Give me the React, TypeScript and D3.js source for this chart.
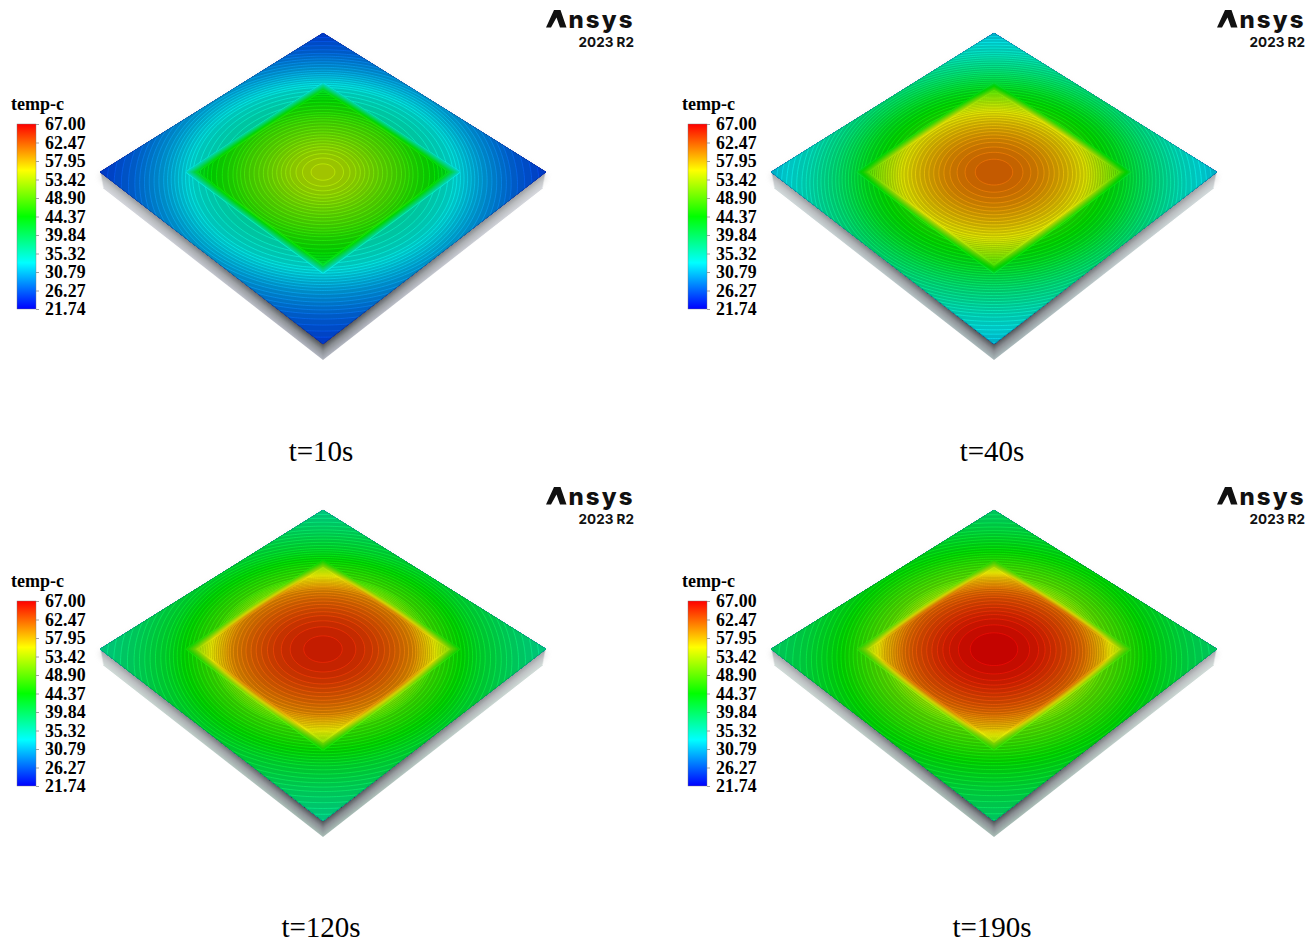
import React, { useMemo } from "react";
import * as d3 from "d3";

const legendTicks = [67.0, 62.47, 57.95, 53.42, 48.9, 44.37, 39.84, 35.32, 30.79, 26.27, 21.74];
const jetStops = [21.74, 33.05, 44.37, 55.69, 67];
const jetColors = ["#0000ff", "#00ffff", "#00ff00", "#ffff00", "#ff0000"];

// temperature read along the plate, from the centre outward (r = plate half-widths)
const innerStations = [0, 0.1, 0.2, 0.3, 0.4, 0.5, 0.58, 0.7, 0.83];
const outerStations = [0.58, 0.7, 0.82, 1, 1.2, 1.42];

const inner10 = [53.8, 53.3, 52.2, 50.6, 49.0, 47.5, 46.0, 44.5, 42.0];
const outer10 = [36.0, 35.0, 33.6, 30.0, 27.0, 24.8];
const inner40 = [62.0, 61.7, 61.0, 60.0, 58.6, 57.0, 55.5, 52.0, 47.5];
const outer40 = [46.5, 44.6, 42.6, 38.5, 34.6, 31.5];
const inner120 = [65.6, 65.3, 64.8, 64.0, 62.8, 61.4, 60.0, 56.0, 50.5];
const outer120 = [52.0, 47.5, 45.4, 42.0, 39.3, 37.0];
const inner190 = [67.0, 66.8, 66.3, 65.5, 64.2, 62.8, 61.2, 57.5, 51.5];
const outer190 = [53.0, 49.0, 47.0, 43.8, 41.0, 38.8];

const captions = ["t=10s", "t=40s", "t=120s", "t=190s"];
const inners = [inner10, inner40, inner120, inner190];
const outers = [outer10, outer40, outer120, outer190];
const panelColumns = [0, 1, 0, 1];
const panelRows = [0, 0, 1, 1];
const shadowTints = ["#b0b4be", "#a9b8ba", "#a6bab4", "#a6bab4"];

const LOW = 21.74;
const HIGH = 67;
const LEVELS = 100;
const STEP = (HIGH - LOW) / LEVELS;
const SOURCE = 0.593;
const BAND = 0.026;
const K = 33 / 311;
const HALF_X = 223;
const HALF_Y = 153.75;
const GRID = 210;
const EXT = 1.04;
const DIM = 0.77;

const jet = d3.scaleLinear<string>().domain(jetStops).range(jetColors).clamp(true);
const dim = (t: number) => {
  const c = d3.rgb(jet(t));
  return d3.rgb(c.r * DIM, c.g * DIM, c.b * DIM).formatRgb();
};
const lineColor = (t: number) => d3.interpolateRgb(jet(t), "#ffffff")(0.03);

function project(a: number, b: number, cx: number, cy: number): [number, number] {
  const p = (a - b) / 2;
  const q = (a + b) / 2;
  const w = 1 - K * q;
  return [cx + (HALF_X * p) / w, cy + (HALF_Y * q) / w];
}

function Plate({ idx, cx, cy }: { idx: number; cx: number; cy: number }) {
  const bands = useMemo(() => {
    const inScale = d3.scaleLinear().domain(innerStations).range(inners[idx]).clamp(true);
    const outScale = d3.scaleLinear().domain(outerStations).range(outers[idx]).clamp(true);
    const gridToPlate = d3.scaleLinear().domain([0, GRID]).range([-EXT, EXT]);
    const values = new Array(GRID * GRID);
    for (let j = 0; j < GRID; j++) {
      for (let i = 0; i < GRID; i++) {
        const a = gridToPlate(i + 0.5);
        const b = gridToPlate(j + 0.5);
        const r = Math.hypot(a, b);
        const m = Math.max(Math.abs(a), Math.abs(b));
        const w = Math.min(1, Math.max(0, (m - SOURCE + BAND) / (2 * BAND)));
        values[j * GRID + i] = inScale(r) * (1 - w) + outScale(r) * w;
      }
    }
    const thresholds = d3.range(0, LEVELS).map((k) => LOW + k * STEP);
    const transform = d3.geoTransform({
      point(x: number, y: number) {
        const [sx, sy] = project(gridToPlate(x), gridToPlate(y), cx, cy);
        (this as any).stream.point(sx, sy);
      },
    });
    const path = d3.geoPath(transform);
    return d3
      .contours()
      .size([GRID, GRID])
      .thresholds(thresholds)(values)
      .filter((c) => c.coordinates.length > 0)
      .map((c) => ({ t: c.value, d: path(c as any) || "" }));
  }, [idx, cx, cy]);

  const corners = [
    project(-1, -1, cx, cy),
    project(1, -1, cx, cy),
    project(1, 1, cx, cy),
    project(-1, 1, cx, cy),
  ];
  const source = [
    project(-SOURCE, -SOURCE, cx, cy),
    project(SOURCE, -SOURCE, cx, cy),
    project(SOURCE, SOURCE, cx, cy),
    project(-SOURCE, SOURCE, cx, cy),
  ];
  const pts = corners.map((c) => c.join(",")).join(" ");
  const clipId = `plate-${idx}`;
  const maskId = `lines-${idx}`;
  const fadeId = `fade-${idx}`;
  const shadowDepth = d3.range(16, -1, -1);
  const shade = d3.scaleLinear<string>().domain([16, 8, 0]).range([shadowTints[idx], "#8c9095", "#4c4f53"]);

  return (
    <g>
      <defs>
        <clipPath id={clipId}>
          <polygon points={pts} />
        </clipPath>
        <mask id={maskId} maskUnits="userSpaceOnUse" x={cx - 240} y={cy - 160} width={480} height={360}>
          <rect x={cx - 240} y={cy - 160} width={480} height={360} fill="#fff" />
          <polygon points={source.map((c) => c.join(",")).join(" ")} fill="none" stroke="#555" strokeWidth={6} />
        </mask>
        <linearGradient id={`${fadeId}-g`} gradientUnits="userSpaceOnUse" x1={cx - 223} x2={cx + 223} y1={0} y2={0}>
          <stop offset={0} stopColor="#fff" stopOpacity={0.5} />
          <stop offset={0.45} stopColor="#fff" stopOpacity={0} />
          <stop offset={0.55} stopColor="#fff" stopOpacity={0} />
          <stop offset={1} stopColor="#fff" stopOpacity={0.5} />
        </linearGradient>
      </defs>
      <polygon
        points={corners.map((c) => `${c[0]},${c[1] + 5}`).join(" ")}
        fill="#8a8a8a"
        opacity={0.5}
        filter="url(#soft)"
      />
      <g filter="url(#softer)">
        {shadowDepth.map((d) => (
          <polygon
            key={d}
            points={[
              [corners[3][0] + (d * 3) / 16, corners[3][1] + d],
              [corners[2][0], corners[2][1] + d],
              [corners[1][0] - (d * 3) / 16, corners[1][1] + d],
            ]
              .map((c) => c.join(","))
              .join(" ")}
            fill={shade(d)}
          />
        ))}
        <polygon
          points={[
            [corners[3][0] + 3, corners[3][1] + 16],
            [corners[2][0], corners[2][1] + 16],
            [corners[1][0] - 3, corners[1][1] + 16],
            [corners[1][0], corners[1][1]],
            [corners[3][0], corners[3][1]],
          ]
            .map((c) => c.join(","))
            .join(" ")}
          fill={`url(#${fadeId}-g)`}
        />
      </g>
      <polygon points={pts} fill={dim(LOW)} />
      <g clipPath={`url(#${clipId})`}>
        {bands.map((b) => (
          <path key={`f${b.t}`} d={b.d} fill={dim(b.t + STEP / 2)} />
        ))}
        <g mask={`url(#${maskId})`}>
          {bands.map((b) => (
            <path key={`l${b.t}`} d={b.d} fill="none" stroke={lineColor(b.t)} strokeWidth={0.8} strokeOpacity={0.72} />
          ))}
        </g>
      </g>
      <polygon points={pts} fill="none" stroke="#24303a" strokeOpacity={0.35} strokeWidth={0.5} />
    </g>
  );
}

function Legend({ x0, y0 }: { x0: number; y0: number }) {
  return (
    <g>
      <text x={x0 + 11} y={y0 + 110} fontFamily="'Liberation Serif'" fontWeight={700} fontSize={18} fill="#000">
        temp-c
      </text>
      <rect x={x0 + 17} y={y0 + 124} width={19} height={185} fill="url(#jet)" stroke="#777" strokeWidth={0.4} />
      {legendTicks.map((t, i) => {
        const yy = y0 + 124.5 + i * 18.5;
        return (
          <g key={t}>
            <line x1={x0 + 36} x2={x0 + 39} y1={yy} y2={yy} stroke="#888" strokeWidth={0.8} />
            <text
              x={x0 + 45}
              y={yy + 5.7}
              fontFamily="'Liberation Serif'"
              fontWeight={700}
              fontSize={17.8}
              letterSpacing={0.15}
              fill="#000"
            >
              {t.toFixed(2)}
            </text>
          </g>
        );
      })}
    </g>
  );
}

function Logo({ x0, y0 }: { x0: number; y0: number }) {
  const wedge = [
    [554, 10],
    [560.5, 10],
    [566.5, 27.5],
    [560, 27.5],
    [556.5, 17.5],
    [551, 27.5],
    [546, 27.5],
  ];
  return (
    <g fill="#111" fontFamily="Inter">
      <text x={x0 + 546} y={y0 + 27.5} fontWeight={800} fontSize={24}>
        <tspan fill="none">A</tspan>
        <tspan x={x0 + 568.5} letterSpacing={2.1}>nsys</tspan>
      </text>
      <polygon points={wedge.map((p) => `${p[0] + x0},${p[1] + y0}`).join(" ")} />
      <text x={x0 + 634} y={y0 + 47} textAnchor="end" fontWeight={700} fontSize={13.5}>
        2023 R2
      </text>
    </g>
  );
}

export default function App() {
  const legendStops = d3.range(0, 21).map((i) => i / 20);
  return (
    <svg
      width={1315}
      height={943}
      viewBox="0 0 1315 943"
      style={{ position: "absolute", left: 0, top: 0, background: "#fff" }}
    >
      <defs>
        <linearGradient id="jet" x1="0" y1="1" x2="0" y2="0">
          {legendStops.map((s) => (
            <stop key={s} offset={s} stopColor={jet(LOW + s * (HIGH - LOW))} />
          ))}
        </linearGradient>
        <filter id="soft" x="-10%" y="-10%" width="120%" height="120%">
          <feGaussianBlur stdDeviation="3.5" />
        </filter>
        <filter id="softer" x="-5%" y="-5%" width="110%" height="110%">
          <feGaussianBlur stdDeviation="0.7" />
        </filter>
      </defs>
      {captions.map((c, i) => {
        const x0 = panelColumns[i] * 671;
        const y0 = panelRows[i] * 476;
        return (
          <g key={c}>
            <Logo x0={x0} y0={panelRows[i] * 477} />
            <Legend x0={x0} y0={panelRows[i] * 477} />
            <Plate idx={i} cx={323 + x0} cy={172 + panelRows[i] * 477} />
            <text x={321 + x0} y={461 + y0} textAnchor="middle" fontFamily="'Liberation Serif'" fontSize={29} fill="#000">
              {c}
            </text>
          </g>
        );
      })}
    </svg>
  );
}
